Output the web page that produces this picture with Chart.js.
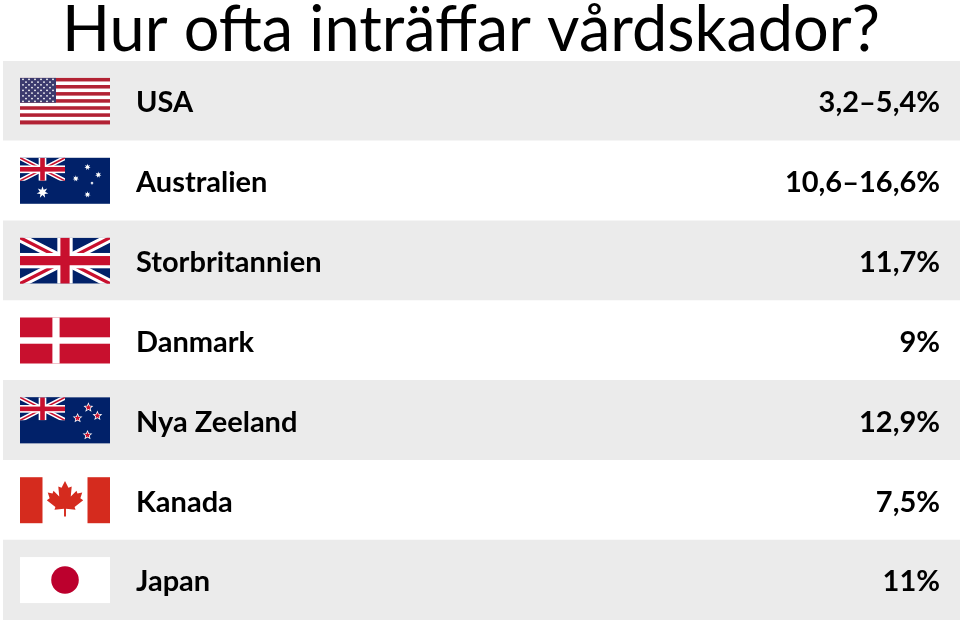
<!DOCTYPE html>
<html><head><meta charset="utf-8">
<script src="https://cdn.jsdelivr.net/npm/chart.js@4"></script>
<style>html,body{margin:0;padding:0;background:#fff}#w{width:960px;height:621px;position:relative}</style>
</head><body><div id="w"><canvas id="c"></canvas></div>
<script>
const title = "Hur ofta inträffar vårdskador?";
const countries = ["USA","Australien","Storbritannien","Danmark","Nya Zeeland","Kanada","Japan"];
const flags = ["us","au","uk","dk","nz","ca","jp"];
const valueLabels = ["3,2\u20135,4%","10,6\u201316,6%","11,7%","9%","12,9%","7,5%","11%"];
const rowFill = [1,1,1,1,1,1,1];
const rowColors = ["#ebebeb","#ffffff","#ebebeb","#ffffff","#ebebeb","#ffffff","#ebebeb"];

function star(ctx,cx,cy,r,n,fill,stroke){
  n=n||5;ctx.beginPath();
  for(let i=0;i<2*n;i++){const a=-Math.PI/2+i*Math.PI/n;const rr=i%2?r*0.45:r;ctx.lineTo(cx+rr*Math.cos(a),cy+rr*Math.sin(a));}
  ctx.closePath();if(stroke){ctx.strokeStyle=stroke;ctx.lineWidth=1.5;ctx.stroke();}ctx.fillStyle=fill;ctx.fill();
}
function jack(ctx,x,y,w,h){
  ctx.save();ctx.beginPath();ctx.rect(x,y,w,h);ctx.clip();
  ctx.fillStyle="#012169";ctx.fillRect(x,y,w,h);
  ctx.lineCap="butt";
  ctx.strokeStyle="#fff";ctx.lineWidth=h*0.2;
  ctx.beginPath();ctx.moveTo(x,y);ctx.lineTo(x+w,y+h);ctx.moveTo(x+w,y);ctx.lineTo(x,y+h);ctx.stroke();
  ctx.strokeStyle="#C8102E";ctx.lineWidth=h*0.07;
  ctx.beginPath();ctx.moveTo(x,y);ctx.lineTo(x+w,y+h);ctx.moveTo(x+w,y);ctx.lineTo(x,y+h);ctx.stroke();
  ctx.fillStyle="#fff";ctx.fillRect(x+w/2-h/6,y,h/3,h);ctx.fillRect(x,y+h/3,w,h/3);
  ctx.fillStyle="#C8102E";ctx.fillRect(x+w/2-h/10,y,h/5,h);ctx.fillRect(x,y+h*0.4,w,h/5);
  ctx.restore();
}
function drawFlag(ctx,k,x,y,w,h){
  ctx.save();
  if(k==="us"){
    for(let i=0;i<13;i++){ctx.fillStyle=i%2?"#fff":"#B22234";ctx.fillRect(x,y+i*h/13,w,h/13+0.5);}
    const cw=w*0.4,ch=h*7/13;ctx.fillStyle="#3C3B6E";ctx.fillRect(x,y,cw,ch);
    ctx.fillStyle="#fff";
    for(let r=0;r<9;r++){const n=r%2?5:6;for(let c=0;c<n;c++){ctx.beginPath();ctx.arc(x+cw*(c*2+(r%2?2:1))/12,y+ch*(r+0.5)/9,0.9,0,7);ctx.fill();}}
  }else if(k==="au"||k==="nz"){
    ctx.fillStyle="#012169";ctx.fillRect(x,y,w,h);jack(ctx,x,y,w/2,h/2);
    if(k==="au"){star(ctx,x+w*0.25,y+h*0.75,h*0.13,7,"#fff");
      [[0.75,0.8],[0.62,0.45],[0.75,0.2],[0.87,0.37],[0.8,0.55]].forEach((p,i)=>star(ctx,x+w*p[0],y+h*p[1],i===4?h*0.04:h*0.07,7,"#fff"));}
    else{[[0.75,0.82],[0.64,0.45],[0.76,0.22],[0.86,0.4]].forEach(p=>star(ctx,x+w*p[0],y+h*p[1],h*0.07,5,"#C8102E","#fff"));}
  }else if(k==="uk"){jack(ctx,x,y,w,h);}
  else if(k==="dk"){ctx.fillStyle="#C8102E";ctx.fillRect(x,y,w,h);ctx.fillStyle="#fff";ctx.fillRect(x+w*0.36,y,w*0.08,h);ctx.fillRect(x,y+h*0.43,w,h*0.14);}
  else if(k==="ca"){ctx.fillStyle="#fff";ctx.fillRect(x,y,w,h);ctx.fillStyle="#D52B1E";ctx.fillRect(x,y,w/4,h);ctx.fillRect(x+w*0.75,y,w/4,h);
    const cx=x+w/2,cy=y+h/2,s=h/2.4;
    const pts=[[0,-1],[0.18,-0.65],[0.35,-0.72],[0.3,-0.2],[0.6,-0.5],[0.65,-0.35],[0.9,-0.4],[0.8,-0.1],[0.95,0],[0.5,0.35],[0.55,0.5],[0.05,0.45],[0.05,0.85],[-0.05,0.85],[-0.05,0.45],[-0.55,0.5],[-0.5,0.35],[-0.95,0],[-0.8,-0.1],[-0.9,-0.4],[-0.65,-0.35],[-0.6,-0.5],[-0.3,-0.2],[-0.35,-0.72],[-0.18,-0.65]];
    ctx.beginPath();pts.forEach(p=>ctx.lineTo(cx+p[0]*s,cy+p[1]*s));ctx.closePath();ctx.fill();}
  else if(k==="jp"){ctx.fillStyle="#fff";ctx.fillRect(x,y,w,h);ctx.fillStyle="#BC002D";ctx.beginPath();ctx.arc(x+w/2,y+h/2,h*0.3,0,7);ctx.fill();}
  ctx.restore();
}
const rowPlugin={id:"rows",afterDatasetsDraw(chart){
  const ctx=chart.ctx,ys=chart.scales.y;
  ctx.save();
  countries.forEach((c,i)=>{
    const cy=ys.getPixelForValue(i);
    drawFlag(ctx,flags[i],20,cy-23,90,46);
    ctx.fillStyle="#000";ctx.font="bold 29px Lato";ctx.textBaseline="middle";
    ctx.textAlign="left";ctx.fillText(c,136,cy+2);
    ctx.textAlign="right";ctx.fillText(valueLabels[i],940,cy+2);
  });
  ctx.fillStyle="#000";ctx.font="63px Lato";ctx.textBaseline="alphabetic";ctx.textAlign="left";
  ctx.fillText(title,62,51);
  ctx.restore();
}};
new Chart(document.getElementById("c"),{
  type:"bar",
  data:{labels:countries,datasets:[{data:rowFill,backgroundColor:rowColors,barPercentage:1,categoryPercentage:1,borderWidth:0}]},
  options:{indexAxis:"y",responsive:true,maintainAspectRatio:false,animation:false,
    layout:{padding:{top:61,left:3,right:0,bottom:1}},
    plugins:{legend:{display:false},tooltip:{enabled:false}},
    scales:{x:{display:false,min:0,max:1},y:{display:false}}},
  plugins:[rowPlugin]
});
</script></body></html>
